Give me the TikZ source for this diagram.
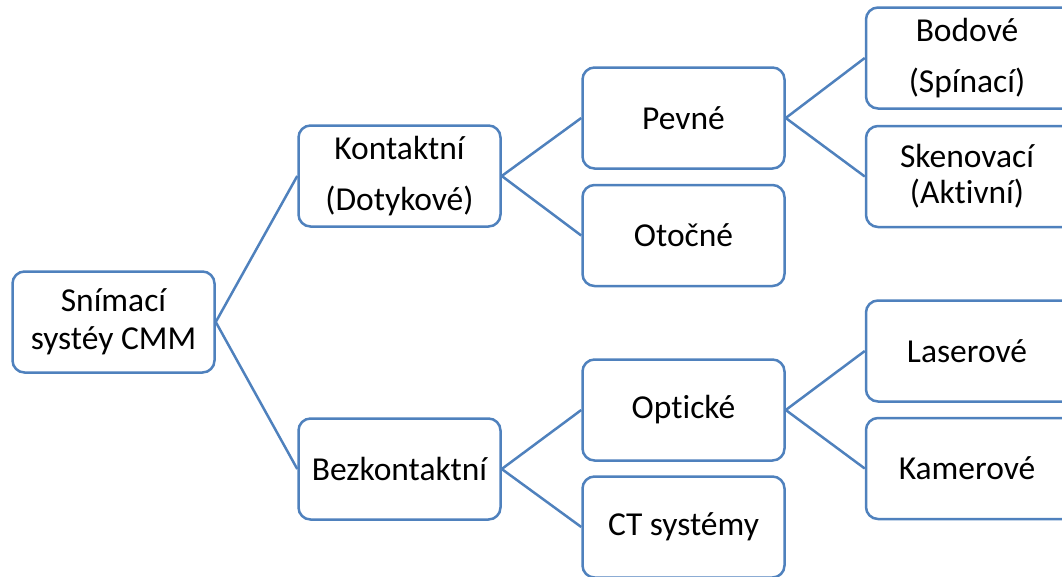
\documentclass[tikz,border=0pt]{standalone}
\usepackage{fontspec}
\setmainfont[Ligatures=NoCommon]{Carlito}
\definecolor{boxline}{RGB}{79,129,189}
\begin{document}
\begin{tikzpicture}[x=1pt,y=-1pt,
  box/.style={draw=boxline, line width=2.5pt, rounded corners=12pt, fill=white,
    minimum width=202pt, minimum height=101pt, align=center, inner sep=0pt,
    font=\fontsize{33.5}{38}\selectfont},
  edgebox/.style={box, minimum width=230pt},
  link/.style={draw=boxline, line width=2.5pt}]
\useasboundingbox (0,0) rectangle (1062,576);
\clip (0,0) rectangle (1062,576);

% tree levels, left to right
\node[box] (root)    at (113.5,322) {Snímací\\systéy CMM};
\node[box] (kont)    at (399.5,176) {Kontaktní\\[13pt](Dotykové)};
\node[box] (bezk)    at (399.5,469) {Bezkontaktní};
\node[box] (pevne)   at (683.5,118) {Pevné};
\node[box] (otocne)  at (683.5,235.5) {Otočné};
\node[box] (opticke) at (683.5,410) {Optické};
\node[box] (ct)      at (683.5,527) {CT systémy};

% last column runs past the right margin; text centred at x=967
\node[edgebox] (bodove) at (981,58) {};
\node[edgebox] (sken)   at (981,176.5) {};
\node[edgebox] (laser)  at (981,351) {};
\node[edgebox] (kamer)  at (981,468.5) {};
\node[font=\fontsize{33.5}{38}\selectfont, align=center] (tbod) at (967,58) {Bodové\\[13pt](Spínací)};
\node[font=\fontsize{33.5}{38}\selectfont, align=center] (tsken) at (967,176.5) {Skenovací\\[-2pt](Aktivní)};
\node[font=\fontsize{33.5}{38}\selectfont] (tlaser) at (967,351) {Laserové};
\node[font=\fontsize{33.5}{38}\selectfont] (tkamer) at (967,468.5) {Kamerové};

% connectors from each parent to its children
\draw[link] (root.east) -- (kont.west);
\draw[link] (root.east) -- (bezk.west);
\draw[link] (kont.east) -- (pevne.west);
\draw[link] (kont.east) -- (otocne.west);
\draw[link] (bezk.east) -- (opticke.west);
\draw[link] (bezk.east) -- (ct.west);
\draw[link] (pevne.east) -- (bodove.west);
\draw[link] (pevne.east) -- (sken.west);
\draw[link] (opticke.east) -- (laser.west);
\draw[link] (opticke.east) -- (kamer.west);
\end{tikzpicture}
\end{document}
